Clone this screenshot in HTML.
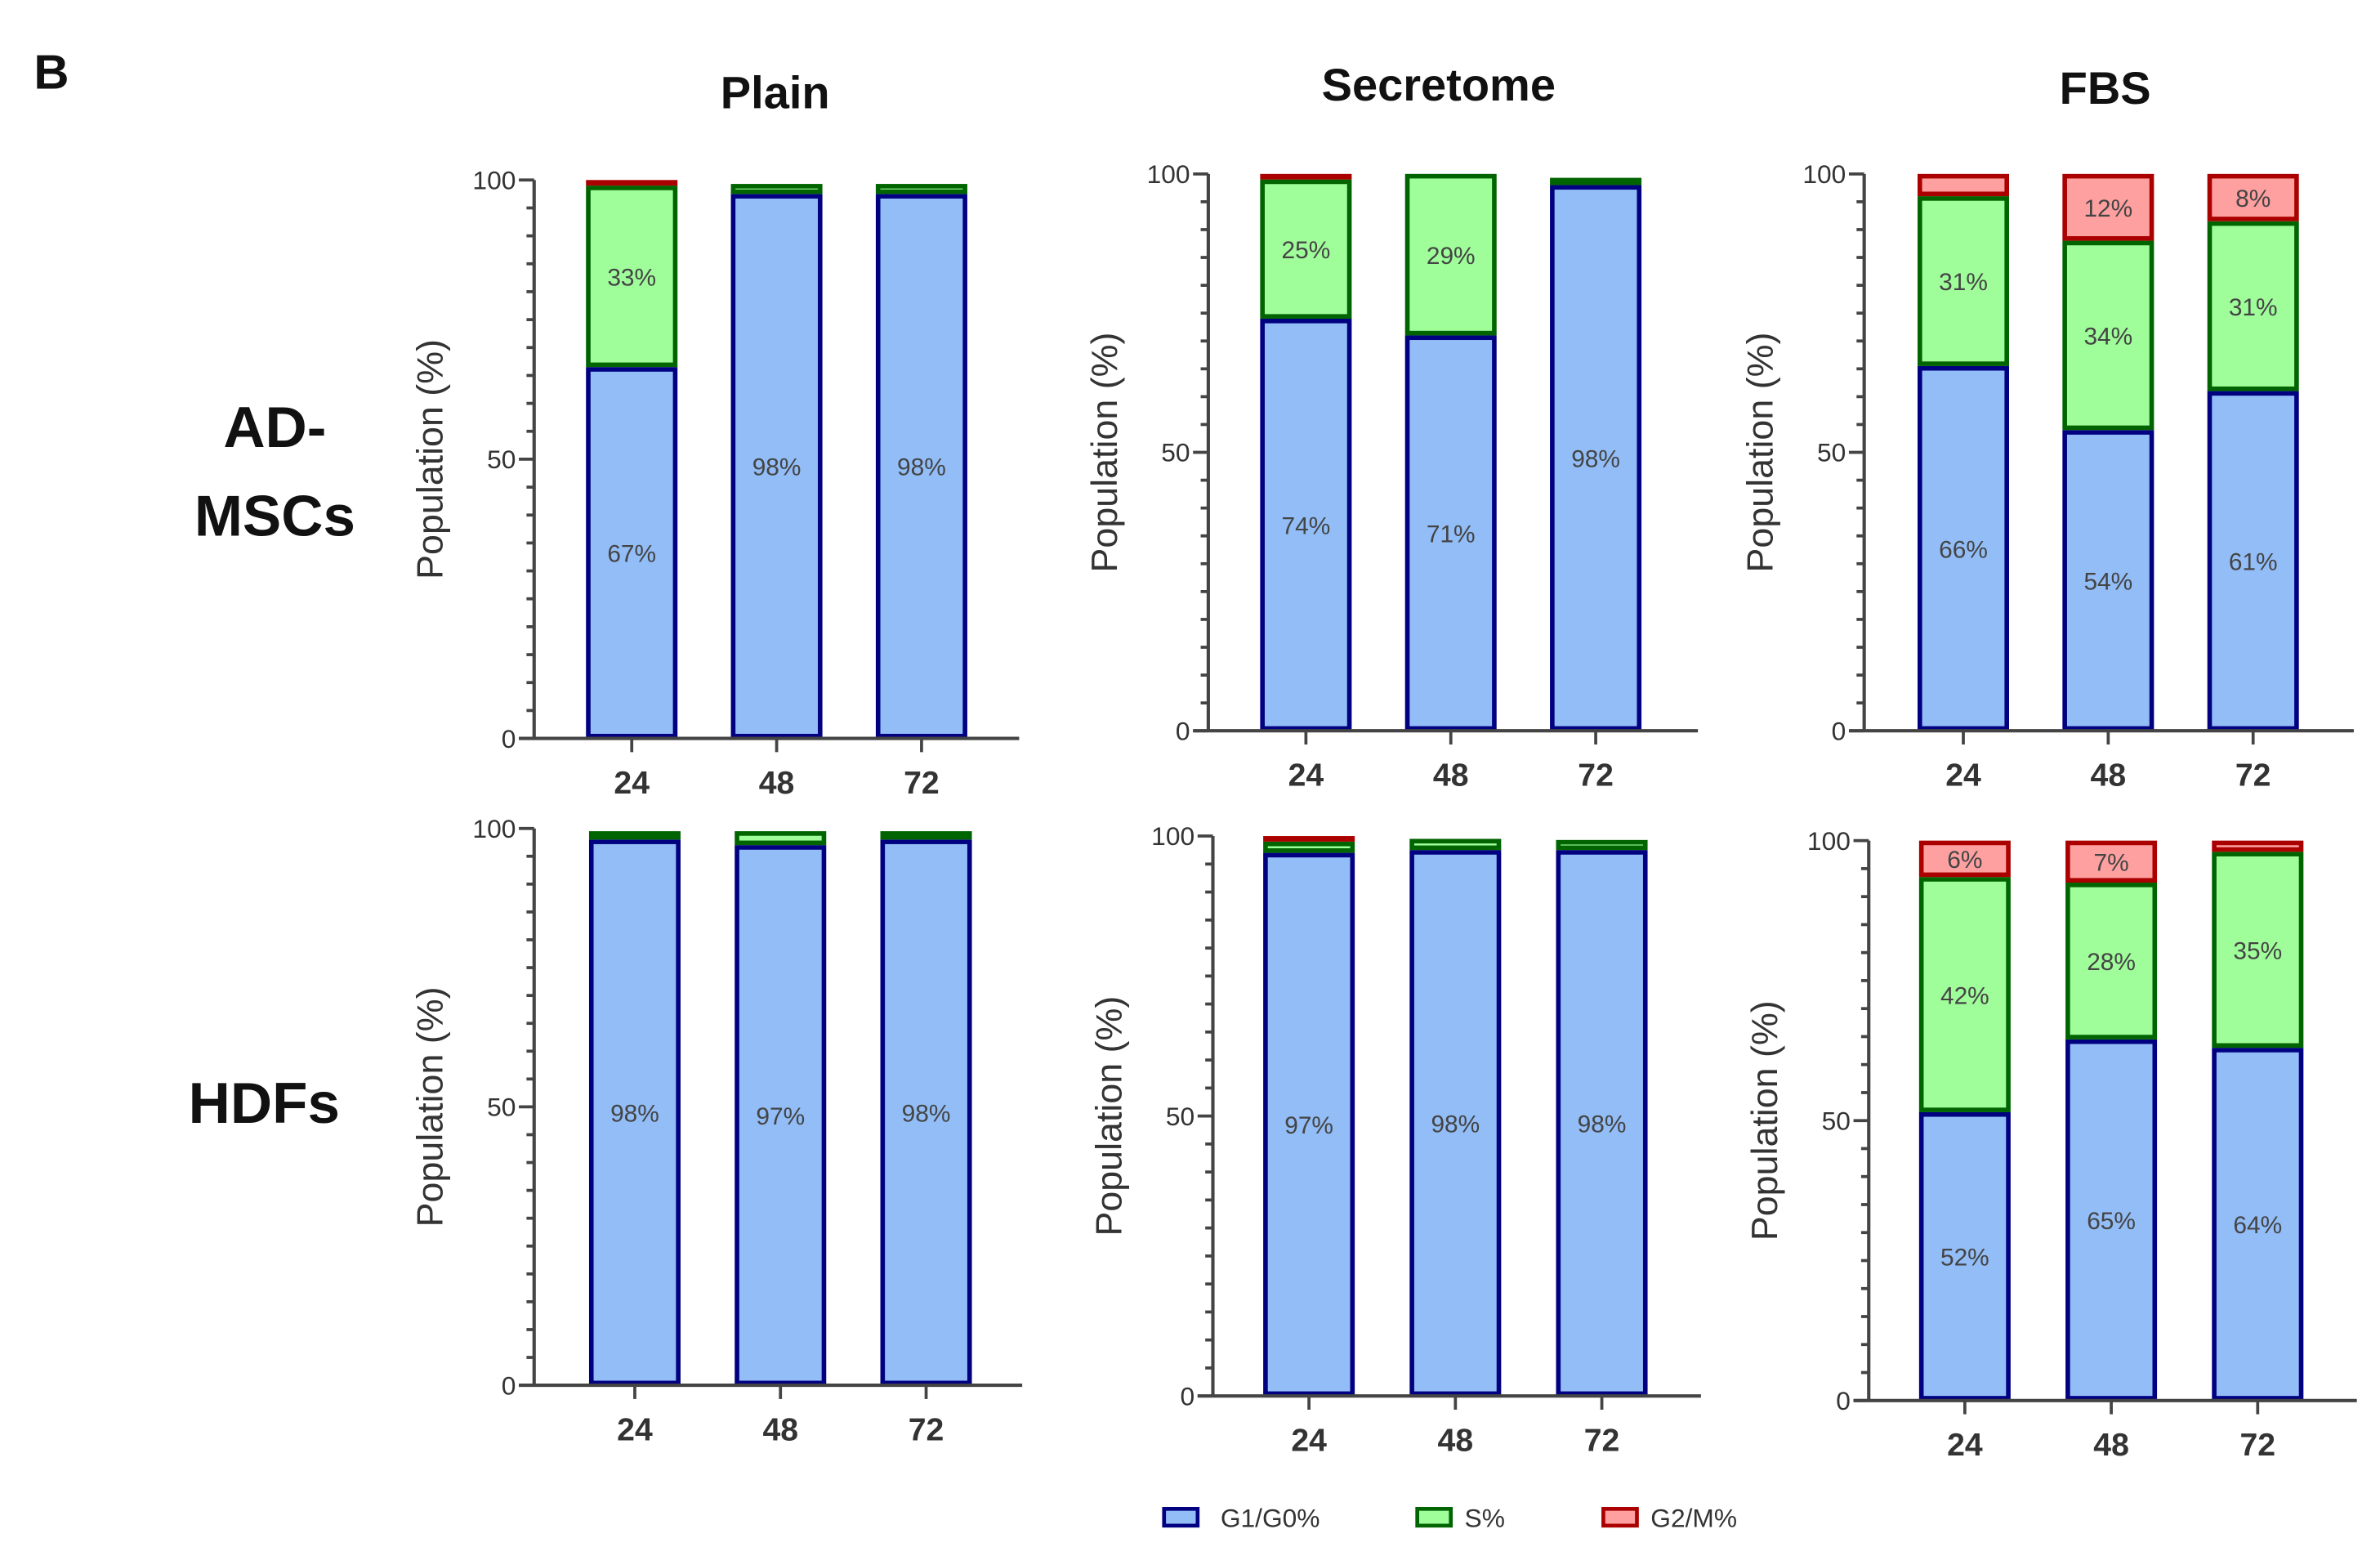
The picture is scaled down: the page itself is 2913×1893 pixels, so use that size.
<!DOCTYPE html>
<html><head><meta charset="utf-8"><style>
html,body{margin:0;padding:0;background:#fff}
svg{display:block}
text{font-family:"Liberation Sans",Arial,sans-serif}
</style></head><body>
<svg id="fig" width="2913" height="1893" viewBox="0 0 1560 1014">
<text x="22" y="58" font-size="32" font-weight="bold" fill="#111">B</text>
<text x="508" y="71" font-size="30" font-weight="bold" text-anchor="middle" fill="#111">Plain</text>
<text x="943" y="66" font-size="30" font-weight="bold" text-anchor="middle" fill="#111">Secretome</text>
<text x="1380" y="68" font-size="30" font-weight="bold" text-anchor="middle" fill="#111">FBS</text>
<text x="180" y="293" font-size="38" font-weight="bold" text-anchor="middle" fill="#111">AD-</text>
<text x="180" y="351" font-size="38" font-weight="bold" text-anchor="middle" fill="#111">MSCs</text>
<text x="173" y="736" font-size="38" font-weight="bold" text-anchor="middle" fill="#111">HDFs</text>
<g>
<rect x="763" y="989" width="22" height="11" fill="#92bdf7" stroke="#000080" stroke-width="2.5"/>
<text x="800" y="1001" font-size="17" fill="#333">G1/G0%</text>
<rect x="929" y="989" width="22" height="11" fill="#9ffd9a" stroke="#006400" stroke-width="2.5"/>
<text x="960" y="1001" font-size="17" fill="#333">S%</text>
<rect x="1051" y="989" width="22" height="11" fill="#ffa0a0" stroke="#aa0000" stroke-width="2.5"/>
<text x="1082" y="1001" font-size="17" fill="#333">G2/M%</text>
</g>
</svg>
<script>
const categories = ["24","48","72"];
const yTicks = [0,50,100];
const g1Values = [[66.5,97.5,97.5],[74,71,98],[65.5,54,61],[98,97,98],[97,97.5,97.5],[51.5,64.5,63]];
const sValues  = [[32.5,1.8,1.8],[25,29,1.3],[30.5,34,30.5],[1.5,2.5,1.5],[2,2,1.8],[42,28,35]];
const g2Values = [[1,0.7,0.7],[1,0.3,0.7],[4,12,8.5],[0.5,0.5,0.5],[1,0.5,0.7],[6.5,7.5,2]];
const g1Labels = [["67%","98%","98%"],["74%","71%","98%"],["66%","54%","61%"],["98%","97%","98%"],["97%","98%","98%"],["52%","65%","64%"]];
const sLabels  = [["33%","",""],["25%","29%",""],["31%","34%","31%"],["","",""],["","",""],["42%","28%","35%"]];
const g2Labels = [["","",""],["","",""],["","12%","8%"],["","",""],["","",""],["6%","7%",""]];
const panelNames = ["ad-mscs-plain","ad-mscs-secretome","ad-mscs-fbs","hdfs-plain","hdfs-secretome","hdfs-fbs"];
const layout = [
 {ax:350,top:118,bot:484,end:668,b0:384,step:95},
 {ax:792,top:114,bot:479,end:1113,b0:826,step:95},
 {ax:1222,top:114,bot:479,end:1543,b0:1257,step:95},
 {ax:350,top:543,bot:908,end:670,b0:386,step:95.5},
 {ax:795,top:548,bot:915,end:1115,b0:828,step:96},
 {ax:1225,top:551,bot:918,end:1545,b0:1258,step:96}
];
const NS="http://www.w3.org/2000/svg";
const svg=document.getElementById('fig');
function mk(tag,attrs,parent){const e=document.createElementNS(NS,tag);for(const k in attrs)e.setAttribute(k,attrs[k]);parent.appendChild(e);return e;}
const BW=60;
layout.forEach((L,p)=>{
  const g=mk('g',{},svg);
  
  
  const y=v=>L.bot-(v/100)*(L.bot-L.top);
  const xb=i=>L.b0+i*L.step;
  const series=[[g1Values,'#92bdf7','#000080',g1Labels,'g1'],[sValues,'#9ffd9a','#006400',sLabels,'s'],[g2Values,'#ffa0a0','#aa0000',g2Labels,'g2m']];
  categories.forEach((c,i)=>{
    let base=0;
    series.forEach(([vals,fill,stroke,labs,nm])=>{
      const v=vals[p][i];
      const r=mk('rect',{x:xb(i)+1.5,y:y(base+v)+1.5,width:BW-3,height:Math.max(0,y(base)-y(base+v)-3),fill:fill,stroke:stroke,'stroke-width':3},g);
      
      
      const lab=labs[p][i];
      if(lab){
        const t=mk('text',{x:xb(i)+BW/2,y:(y(base)+y(base+v))/2+6,'font-size':16,'text-anchor':'middle',fill:'#444'},g);
        t.textContent=lab;
        
        
      }
      base+=v;
    });
  });
  const ya=mk('line',{x1:L.ax,y1:L.top,x2:L.ax,y2:L.bot,stroke:'#444','stroke-width':2.2},g);
  
  
  const xa=mk('line',{x1:L.ax-10,y1:L.bot,x2:L.end,y2:L.bot,stroke:'#444','stroke-width':2.2},g);
  
  
  for(let v=0;v<=100;v+=5){
    const major=v%50===0;
    mk('line',{x1:L.ax-(major?10:5),y1:y(v),x2:L.ax,y2:y(v),stroke:'#444','stroke-width':2},g);
  }
  yTicks.forEach(v=>{
    const t=mk('text',{x:L.ax-12,y:y(v)+6,'font-size':17,'text-anchor':'end',fill:'#333'},g);
    t.textContent=v;
    
    
  });
  categories.forEach((c,i)=>{
    mk('line',{x1:xb(i)+BW/2,y1:L.bot,x2:xb(i)+BW/2,y2:L.bot+9,stroke:'#444','stroke-width':2},g);
    const t=mk('text',{x:xb(i)+BW/2,y:L.bot+36,'font-size':21,'font-weight':'bold','text-anchor':'middle',fill:'#333'},g);
    t.textContent=c;
    
    
  });
  const cy=(L.top+L.bot)/2;
  const tx=L.ax-68;
  const yt=mk('text',{x:tx,y:cy,'font-size':24,'text-anchor':'middle',fill:'#333',transform:`rotate(-90 ${tx} ${cy})`},g);
  yt.setAttribute('dy','8');
  yt.textContent='Population (%)';
  
  
});
</script>
</body></html>
